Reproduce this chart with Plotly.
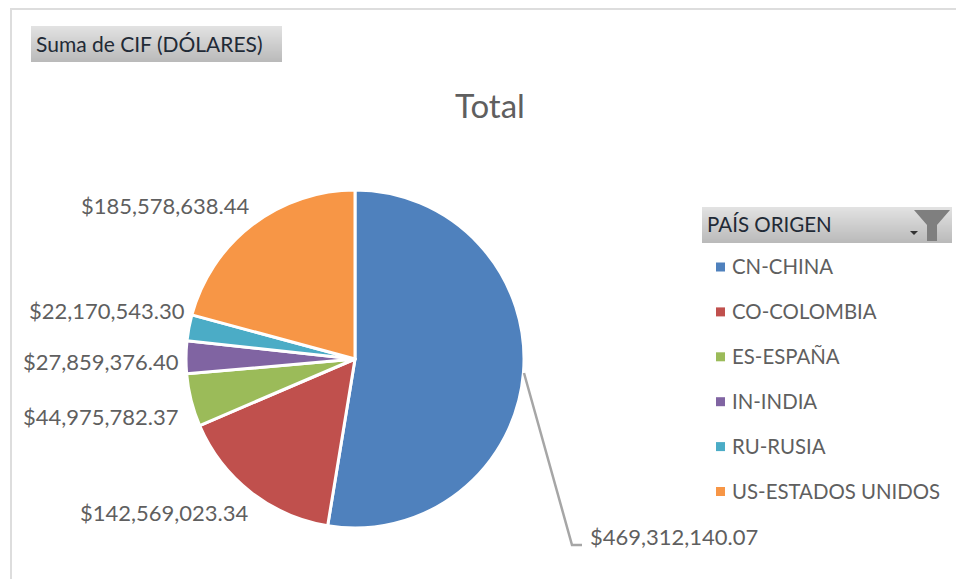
import plotly.graph_objects as go

W, H = 956, 579
categories = ["CN-CHINA", "CO-COLOMBIA", "ES-ESPAÑA", "IN-INDIA", "RU-RUSIA", "US-ESTADOS UNIDOS"]
values = [469312140.07, 142569023.34, 44975782.37, 27859376.40, 22170543.30, 185578638.44]
colors = ["#4F81BD", "#C0504D", "#9BBB59", "#8064A2", "#4BACC6", "#F79646"]
FONT = "Lato"
TEXT = "#5F5F5F"

def px(x): return x / W
def py(y): return 1 - y / H

CX, CY, R = 355, 359, 169
fig = go.Figure(go.Pie(
    labels=categories, values=values, sort=False, direction="clockwise", rotation=0,
    textinfo="none", hoverinfo="label+value", showlegend=False,
    marker=dict(colors=colors, line=dict(color="white", width=3)),
    domain=dict(x=[px(CX - R), px(CX + R)], y=[py(CY + R), py(CY - R)]),
))

shapes, ann = [], []
def rect(x0, y0, x1, y1, color):
    shapes.append(dict(type="rect", xref="paper", yref="paper", x0=px(x0), x1=px(x1),
                       y0=py(y0), y1=py(y1), fillcolor=color, line=dict(width=0), layer="below"))
def path(points, fill=None, line=None, width=2):
    d = "M " + " L ".join(f"{px(x):.5f},{py(y):.5f}" for x, y in points) + (" Z" if fill else "")
    shapes.append(dict(type="path", xref="paper", yref="paper", path=d,
                       fillcolor=fill, line=dict(color=line, width=width if line else 0)))
def text(x, y, s, size, color=TEXT, anchor="left"):
    ann.append(dict(x=px(x), y=py(y - 1), xref="paper", yref="paper", text=s, showarrow=False,
                    xanchor=anchor, yanchor="middle", borderpad=0, borderwidth=0,
                    font=dict(family=FONT, size=size, color=color)))
def gradient(x0, y0, x1, y1, top=(226, 226, 226), bottom=(186, 186, 186)):
    n = y1 - y0
    for i in range(n):
        c = [round(top[k] + (bottom[k] - top[k]) * i / (n - 1)) for k in range(3)]
        rect(x0, y0 + i, x1, y0 + i + 1, f"rgb({c[0]},{c[1]},{c[2]})")

# chart frame
rect(10, 8, W, 10, "#DDDDDD")
rect(10, 8, 12, H, "#DDDDDD")

# field buttons
gradient(31, 26, 282, 62)
text(36, 45, "Suma de CIF (DÓLARES)", 21, "#1F2A36")
gradient(702, 207, 952, 243)
text(707, 225, "PAÍS ORIGEN", 20.5, "#1F2A36")
path([(914, 210), (950, 210), (937, 225), (937, 241), (927, 241), (927, 225)], fill="#7F7F7F")
path([(910, 231), (918, 231), (914, 235)], fill="#333333")

# title
text(490, 106, "Total", 33, "#5F5F5F", "center")

# value labels
label_pos = [(590, 537), (80, 513), (23, 417), (23, 362), (29, 312), (81, 206)]
for v, (x, y) in zip(values, label_pos):
    text(x, y, f"${v:,.2f}", 22)

# leader line of the largest slice
path([(524, 373), (572, 545), (582, 545)], line="#A6A6A6", width=2.5)

# legend
for i, (c, col) in enumerate(zip(categories, colors)):
    y = 267 + i * 44.9
    rect(716, y - 4.5, 725, y + 4.5, col)
    text(732, y, c, 20.4)

fig.update_layout(width=W, height=H, margin=dict(l=0, r=0, t=0, b=0), autosize=False,
                  paper_bgcolor="white", shapes=shapes, annotations=ann,
                  font=dict(family=FONT))
fig.write_html("out.html", config={"displayModeBar": False},
               post_script="document.body.style.margin='0';document.body.style.overflow='hidden';")
